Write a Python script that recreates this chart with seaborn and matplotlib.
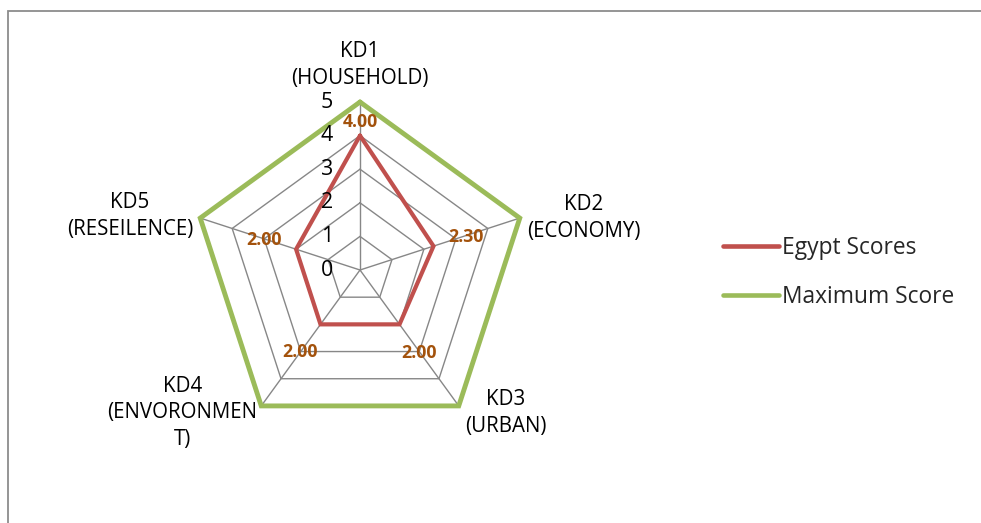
import numpy as np
import pandas as pd
import matplotlib
matplotlib.use("Agg")
import matplotlib.pyplot as plt
from matplotlib.patches import Rectangle
import seaborn as sns

# Key dimensions and scores
categories = ["KD1\n(HOUSEHOLD)", "KD2\n(ECONOMY)", "KD3\n(URBAN)",
              "KD4\n(ENVORONMEN\nT)", "KD5\n(RESEILENCE)"]
egypt_scores = [4.00, 2.30, 2.00, 2.00, 2.00]
max_scores = [5, 5, 5, 5, 5]
series_names = ["Egypt Scores", "Maximum Score"]
ring_levels = [0, 1, 2, 3, 4, 5]

sns.set_style("white")
plt.rcParams["font.family"] = ["Open Sans", "DejaVu Sans"]

RED = "#C0504D"
GREEN = "#9BBB59"
GRID = "#878787"
LABEL = "#A3520C"
LINE_W = {series_names[0]: 3.0, series_names[1]: 3.5}

n = len(categories)
angles = np.arange(n) * 2 * np.pi / n
angles_closed = np.append(angles, 2 * np.pi)

def closed(vals):
    return list(vals) + [vals[0]]

df = pd.concat([
    pd.DataFrame({"angle": angles_closed, "score": closed(egypt_scores), "series": series_names[0]}),
    pd.DataFrame({"angle": angles_closed, "score": closed(max_scores), "series": series_names[1]}),
])

fig = plt.figure(figsize=(9.81, 5.23), dpi=100)
W, H = 981, 523
cx, cy, R = 360, 270, 168
ax = fig.add_axes([(cx - R) / W, (H - cy - R) / H, 2 * R / W, 2 * R / H], projection="polar")
ax.set_theta_offset(np.pi / 2)
ax.set_theta_direction(-1)
ax.set_ylim(0, max(ring_levels))
ax.grid(False)
ax.spines["polar"].set_visible(False)
ax.set_xticks([])
ax.set_yticks([])
ax.patch.set_alpha(0)

# pentagon grid rings and spokes
for r in ring_levels[1:]:
    ax.plot(angles_closed, [r] * len(angles_closed), color=GRID, lw=1.0, zorder=1, clip_on=False)
for a in angles:
    ax.plot([a, a], [0, max(ring_levels)], color=GRID, lw=1.0, zorder=1, clip_on=False)
n_grid = len(ax.lines)

sns.lineplot(data=df, x="angle", y="score", hue="series", sort=False,
             palette={series_names[0]: RED, series_names[1]: GREEN},
             linewidth=3.1, ax=ax, zorder=3, legend=True)
for ln, name in zip(ax.lines[n_grid:], series_names):
    ln.set_clip_on(False)
    ln.set_solid_joinstyle("miter")
    ln.set_linewidth(LINE_W[name])
ax.set_xlabel("")
ax.set_ylabel("")
handles, labels = ax.get_legend_handles_labels()
ax.get_legend().remove()

# radial value labels
for r in ring_levels:
    ax.annotate(str(r), xy=(0, r), xytext=(-33 * 0.72, 0), textcoords="offset points",
                ha="center", va="center", fontsize=15.4, color="black", zorder=5,
                annotation_clip=False)

# category labels
cat_offsets = [(0, 37), (7, 0), (6, -7), (-4, -7), (-7, 2)]
cat_align = ["center", "left", "left", "right", "right"]
for a, text, (dx, dy), ha in zip(angles, categories, cat_offsets, cat_align):
    ax.annotate(text, xy=(a, max(ring_levels)), xytext=(dx * 0.72, dy * 0.72),
                textcoords="offset points", ha=ha, va="center", multialignment="center",
                fontsize=14.8, linespacing=1.36, color="black", annotation_clip=False)

# data labels for the scores
val_offsets = [(0, 14), (32, 9), (20, -29), (-20, -28), (-32, 9)]
for a, v, (dx, dy) in zip(angles, egypt_scores, val_offsets):
    ax.annotate(f"{v:.2f}", xy=(a, v), xytext=(dx * 0.72, dy * 0.72),
                textcoords="offset points", ha="center", va="center",
                fontsize=12.8, fontweight="bold", color=LABEL, zorder=6,
                annotation_clip=False)

fig.legend(handles, labels, loc="upper left", bbox_to_anchor=(723 / W, 1 - 236 / H),
           frameon=False, fontsize=16.4, handlelength=2.45, handletextpad=0.15,
           labelspacing=1.08, borderpad=0, borderaxespad=0)
for h in fig.legends[0].legend_handles:
    h.set_linewidth(3.3)

# chart area frame
fig.add_artist(Rectangle((8 / W, -0.1), 1.2, 1 - 11 / H + 0.1, transform=fig.transFigure,
                         fill=False, edgecolor="#8C8C8C", lw=1.3))

fig.savefig("out.png", dpi=100)
